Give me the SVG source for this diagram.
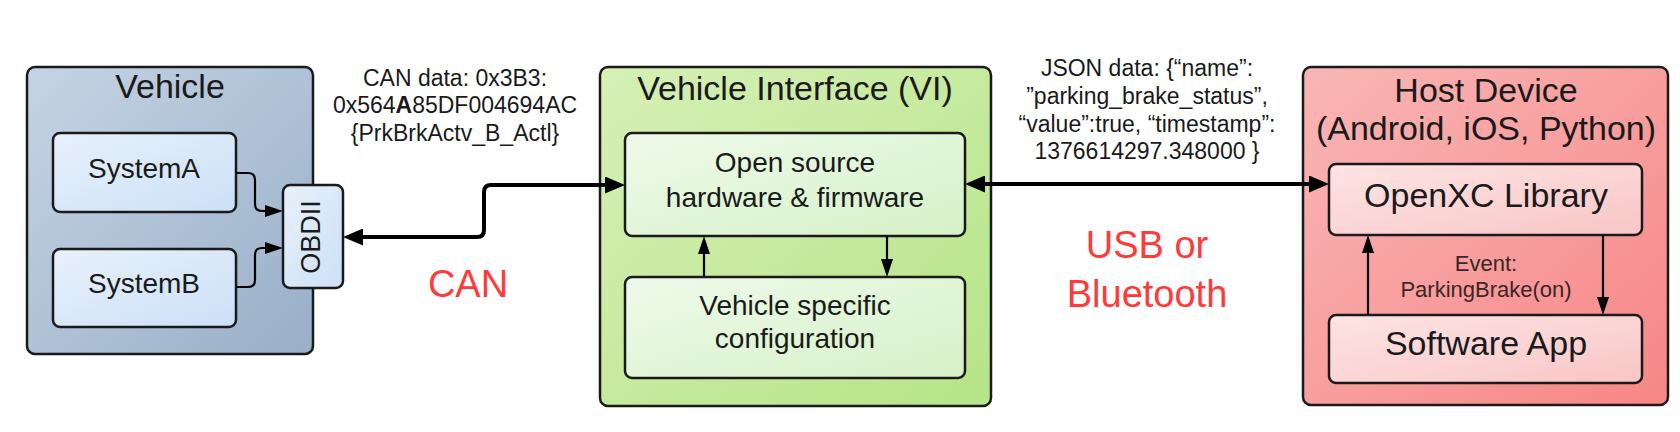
<svg xmlns="http://www.w3.org/2000/svg" width="1680" height="432" viewBox="0 0 1680 432">
<defs>
<linearGradient id="gVeh" x1="0" y1="0" x2="1" y2="1"><stop offset="0" stop-color="#c6d4e4"/><stop offset="1" stop-color="#98afc8"/></linearGradient>
<linearGradient id="gVehIn" x1="0" y1="0" x2="1" y2="1"><stop offset="0" stop-color="#e8f1fb"/><stop offset="1" stop-color="#cbe0f7"/></linearGradient>
<linearGradient id="gVI" x1="0" y1="0" x2="1" y2="1"><stop offset="0" stop-color="#d6f0b6"/><stop offset="1" stop-color="#b6e487"/></linearGradient>
<linearGradient id="gVIIn" x1="0" y1="0" x2="1" y2="1"><stop offset="0" stop-color="#eefaea"/><stop offset="1" stop-color="#d6f1c8"/></linearGradient>
<linearGradient id="gHost" x1="0" y1="0" x2="1" y2="1"><stop offset="0" stop-color="#f9b6b6"/><stop offset="1" stop-color="#f78686"/></linearGradient>
<linearGradient id="gHostIn" x1="0" y1="0" x2="1" y2="1"><stop offset="0" stop-color="#fde4e4"/><stop offset="1" stop-color="#f9c6c6"/></linearGradient>
<marker id="ah" markerUnits="userSpaceOnUse" markerWidth="20" markerHeight="17" refX="15" refY="8.5" orient="auto-start-reverse"><path d="M0,0 L20,8.5 L0,17 z" fill="#000"/></marker>
<marker id="as" markerUnits="userSpaceOnUse" markerWidth="18" markerHeight="12" refX="14" refY="6" orient="auto-start-reverse"><path d="M0,0 L18,6 L0,12 z" fill="#000"/></marker>
</defs>
<style>
.box{stroke:#1a1a1a;stroke-width:2.5}
.t{font-family:"Liberation Sans",Arial,sans-serif;fill:#1a1a1a;text-anchor:middle}
.title{font-size:34px}
.inner{font-size:28px}
.big{font-size:34px}
.data{font-size:23px}
.ev{font-size:22px;fill:#3a2626}
.red{font-family:"Liberation Sans",Arial,sans-serif;fill:#ff3a3a;text-anchor:middle;font-size:38px}
.thick{fill:none;stroke:#000;stroke-width:4;marker-start:url(#ah);marker-end:url(#ah)}
.thin{fill:none;stroke:#000;stroke-width:2.2;marker-end:url(#as)}
</style>
<rect width="1680" height="432" fill="#fff"/>

<g id="vehicle">
<rect class="box" x="27" y="67" width="286" height="287" rx="8" fill="url(#gVeh)"/>
<text class="t title" x="170" y="98">Vehicle</text>
</g>
<g id="systemA">
<rect class="box" x="53" y="133" width="183" height="79" rx="7" fill="url(#gVehIn)"/>
<text class="t inner" x="144" y="178">SystemA</text>
</g>
<g id="systemB">
<rect class="box" x="53" y="249" width="183" height="78" rx="7" fill="url(#gVehIn)"/>
<text class="t inner" x="144" y="293">SystemB</text>
</g>
<g id="obdii">
<rect class="box" x="283" y="185" width="60" height="103" rx="7" fill="url(#gVehIn)"/>
<text class="t" font-size="27" transform="translate(320,237) rotate(-90)">OBDII</text>
</g>

<g id="vi">
<rect class="box" x="600" y="67" width="391" height="339" rx="8" fill="url(#gVI)"/>
<text class="t title" x="795" y="100">Vehicle Interface (VI)</text>
</g>
<g id="firmware">
<rect class="box" x="625" y="133" width="340" height="103" rx="7" fill="url(#gVIIn)"/>
<text class="t inner" x="795" y="172">Open source</text>
<text class="t inner" x="795" y="207">hardware &amp; firmware</text>
</g>
<g id="config">
<rect class="box" x="625" y="277" width="340" height="101" rx="7" fill="url(#gVIIn)"/>
<text class="t inner" x="795" y="315">Vehicle specific</text>
<text class="t inner" x="795" y="348">configuration</text>
</g>

<g id="host">
<rect class="box" x="1303" y="67" width="365" height="338" rx="8" fill="url(#gHost)"/>
<text class="t title" x="1486" y="102">Host Device</text>
<text class="t title" x="1486" y="140">(Android, iOS, Python)</text>
</g>
<g id="openxc">
<rect class="box" x="1329" y="164" width="313" height="71" rx="7" fill="url(#gHostIn)"/>
<text class="t big" x="1486" y="207">OpenXC Library</text>
</g>
<g id="app">
<rect class="box" x="1329" y="315" width="313" height="68" rx="7" fill="url(#gHostIn)"/>
<text class="t big" x="1486" y="355">Software App</text>
</g>

<g id="connectors">
<path class="thin" d="M236,173 H248 Q255,173 255,180 V204 Q255,211 262,211 H279"/>
<path class="thin" d="M236,287 H248 Q255,287 255,280 V255 Q255,248 262,248 H279"/>
<path class="thick" d="M348,237 H477 Q484,237 484,230 V192 Q484,185 491,185 H620"/>
<path class="thin" d="M704,277 V240"/>
<path class="thin" d="M887,236 V273"/>
<path class="thick" d="M970,184 H1324"/>
<path class="thin" d="M1368,315 V239"/>
<path class="thin" d="M1603,235 V311"/>
</g>

<g id="labels">
<text class="t data" x="455" y="86">CAN data: 0x3B3:</text>
<text class="t data" x="455" y="113">0x564<tspan font-weight="bold">A</tspan>85DF004694AC</text>
<text class="t data" x="455" y="141">{PrkBrkActv_B_Actl}</text>
<text class="red" x="468" y="297">CAN</text>
<text class="t data" x="1147" y="76">JSON data: {“name”:</text>
<text class="t data" x="1147" y="104">”parking_brake_status”,</text>
<text class="t data" x="1147" y="132">“value”:true, “timestamp”:</text>
<text class="t data" x="1147" y="159">1376614297.348000 }</text>
<text class="red" x="1147" y="258">USB or</text>
<text class="red" x="1147" y="307">Bluetooth</text>
<text class="t ev" x="1486" y="271">Event:</text>
<text class="t ev" x="1486" y="297">ParkingBrake(on)</text>
</g>
</svg>
